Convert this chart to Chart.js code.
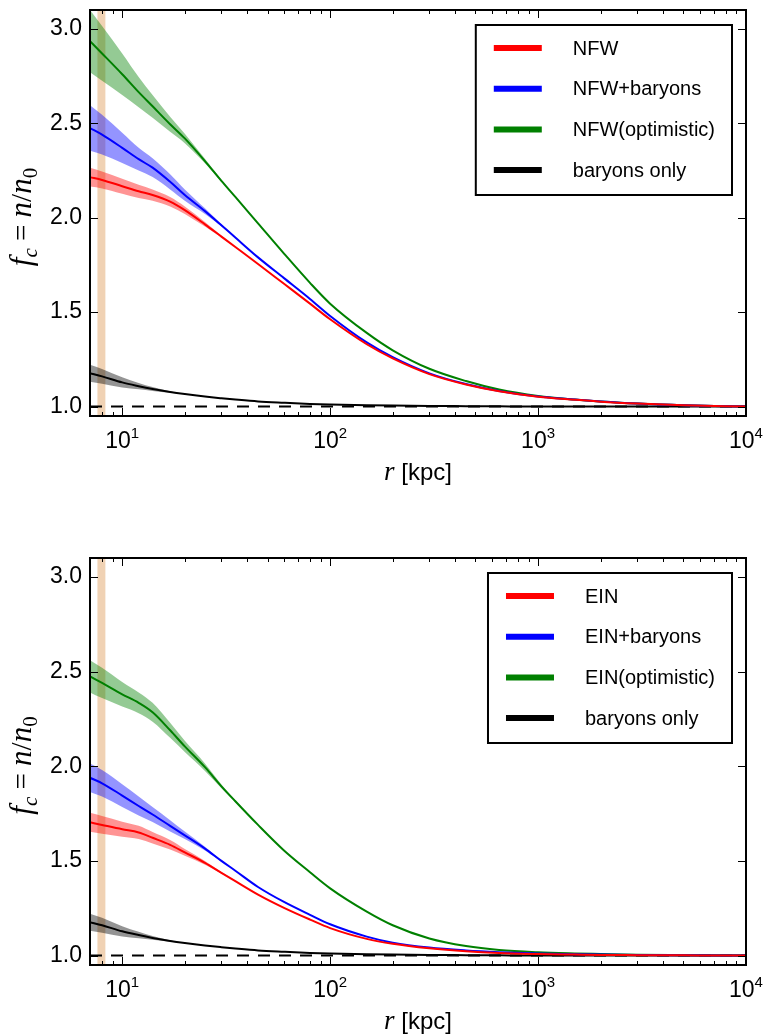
<!DOCTYPE html>
<html>
<head>
<meta charset="utf-8">
<script src="https://cdn.jsdelivr.net/npm/chart.js@4.4.0/dist/chart.umd.min.js"></script>
<style>
  body { margin: 0; background: #fff; }
  .panel { position: absolute; left: 0; width: 765px; height: 518px; }
</style>
</head>
<body>
<div class="panel" style="top:0"><canvas id="topChart" width="765" height="518"></canvas></div>
<div class="panel" style="top:518px"><canvas id="bottomChart" width="765" height="518"></canvas></div>
<script>
// radius grid in kpc
const radius = [7, 8, 10, 12, 14, 17, 20, 25, 30, 35, 45, 60, 80, 100, 150, 200, 300, 450, 650, 1000, 1500, 2000, 3000, 5000, 10000];

// top panel: NFW profiles
const nfw       = [2.215, 2.200, 2.167, 2.140, 2.120, 2.085, 2.040, 1.965, 1.900, 1.845, 1.755, 1.650, 1.545, 1.462, 1.330, 1.255, 1.172, 1.117, 1.081, 1.052, 1.036, 1.026, 1.016, 1.007, 1.000];
const nfwErr    = [0.050, 0.045, 0.040, 0.035, 0.030, 0.025, 0.020, 0.012, 0.005, 0, 0, 0, 0, 0, 0, 0, 0, 0, 0, 0, 0, 0, 0, 0, 0];
const nfwBar    = [2.475, 2.440, 2.370, 2.310, 2.265, 2.190, 2.120, 2.035, 1.960, 1.895, 1.790, 1.680, 1.570, 1.480, 1.340, 1.262, 1.176, 1.119, 1.082, 1.053, 1.037, 1.027, 1.016, 1.007, 1.000];
const nfwBarErr = [0.120, 0.105, 0.080, 0.060, 0.050, 0.040, 0.030, 0.015, 0.006, 0, 0, 0, 0, 0, 0, 0, 0, 0, 0, 0, 0, 0, 0, 0, 0];
const nfwOpt    = [2.935, 2.870, 2.760, 2.665, 2.590, 2.495, 2.420, 2.300, 2.195, 2.110, 1.970, 1.810, 1.655, 1.545, 1.390, 1.298, 1.200, 1.135, 1.090, 1.056, 1.037, 1.027, 1.016, 1.007, 1.000];
const nfwOptErr = [0.165, 0.145, 0.110, 0.080, 0.060, 0.040, 0.025, 0.012, 0.005, 0, 0, 0, 0, 0, 0, 0, 0, 0, 0, 0, 0, 0, 0, 0, 0];

// bottom panel: Einasto profiles
const ein       = [1.704, 1.690, 1.667, 1.650, 1.622, 1.585, 1.545, 1.490, 1.437, 1.393, 1.322, 1.252, 1.190, 1.145, 1.088, 1.062, 1.038, 1.022, 1.013, 1.008, 1.005, 1.003, 1.002, 1.001, 1.000];
const einErr    = [0.050, 0.047, 0.040, 0.035, 0.030, 0.025, 0.018, 0.010, 0.004, 0, 0, 0, 0, 0, 0, 0, 0, 0, 0, 0, 0, 0, 0, 0, 0];
const einBar    = [1.939, 1.910, 1.845, 1.790, 1.745, 1.685, 1.635, 1.565, 1.500, 1.448, 1.362, 1.283, 1.215, 1.165, 1.100, 1.068, 1.042, 1.027, 1.018, 1.011, 1.007, 1.005, 1.003, 1.001, 1.000];
const einBarErr = [0.075, 0.070, 0.060, 0.050, 0.040, 0.030, 0.020, 0.010, 0.004, 0, 0, 0, 0, 0, 0, 0, 0, 0, 0, 0, 0, 0, 0, 0, 0];
const einOpt    = [2.475, 2.440, 2.380, 2.335, 2.285, 2.190, 2.105, 1.995, 1.894, 1.815, 1.690, 1.555, 1.440, 1.355, 1.232, 1.160, 1.090, 1.050, 1.029, 1.017, 1.011, 1.008, 1.004, 1.002, 1.000];
const einOptErr = [0.085, 0.080, 0.065, 0.055, 0.050, 0.040, 0.030, 0.020, 0.010, 0.005, 0, 0, 0, 0, 0, 0, 0, 0, 0, 0, 0, 0, 0, 0, 0];

// baryons only (same in both panels)
const baryons    = [1.176, 1.160, 1.128, 1.108, 1.093, 1.077, 1.066, 1.053, 1.044, 1.037, 1.027, 1.020, 1.014, 1.011, 1.007, 1.005, 1.003, 1.002, 1.001, 1.000, 1.000, 1.000, 1.000, 1.000, 1.000];
const baryonsErr = [0.045, 0.039, 0.027, 0.017, 0.010, 0.004, 0.001, 0, 0, 0, 0, 0, 0, 0, 0, 0, 0, 0, 0, 0, 0, 0, 0, 0, 0];

const topNames = ["NFW", "NFW+baryons", "NFW(optimistic)", "baryons only"];
const bottomNames = ["EIN", "EIN+baryons", "EIN(optimistic)", "baryons only"];

const yTicks = [1.0, 1.5, 2.0, 2.5, 3.0];
const xMajor = [10, 100, 1000, 10000];
const xExp = ["1", "2", "3", "4"];
const solarBand = [7.6, 8.3];

const lineColors = ["#ff0000", "#0000ff", "#008000", "#000000"];
const bandColors = ["rgba(255,0,0,0.42)", "rgba(0,0,255,0.42)", "rgba(0,128,0,0.42)", "rgba(0,0,0,0.42)"];

const SANS = "'Liberation Sans', Arial, sans-serif";
const SERIF = "'Liberation Serif', 'Times New Roman', serif";

function buildDatasets(lines, errs, names) {
  const sets = [];
  lines.forEach((vals, k) => {
    const upper = [], lower = [];
    radius.forEach((r, i) => {
      if (errs[k][i] > 0 || (i > 0 && errs[k][i - 1] > 0)) {
        upper.push({ x: r, y: vals[i] + errs[k][i] });
        lower.push({ x: r, y: vals[i] - errs[k][i] });
      }
    });
    sets.push({ data: upper, borderColor: "rgba(0,0,0,0)", borderWidth: 0, pointRadius: 0, fill: false, order: 2, cubicInterpolationMode: "monotone" });
    sets.push({ data: lower, borderColor: "rgba(0,0,0,0)", borderWidth: 0, pointRadius: 0, fill: "-1", backgroundColor: bandColors[k], order: 2, cubicInterpolationMode: "monotone" });
  });
  lines.forEach((vals, k) => {
    sets.push({
      label: names[k],
      data: radius.map((r, i) => ({ x: r, y: vals[i] })),
      borderColor: lineColors[k],
      borderWidth: 2,
      pointRadius: 0,
      fill: false,
      order: 1,
      cubicInterpolationMode: "monotone"
    });
  });
  // n = n0 reference
  sets.push({
    data: [{ x: radius[0], y: 1 }, { x: radius[radius.length - 1], y: 1 }],
    borderColor: "#000",
    borderWidth: 2,
    borderDash: [12, 9],
    pointRadius: 0,
    fill: false,
    order: 1
  });
  return sets;
}

function drawPieces(ctx, pieces, cx, baseY) {
  let total = 0;
  pieces.forEach(p => { ctx.font = p.font; p.w = ctx.measureText(p.t).width; total += p.w; });
  let x = cx - total / 2;
  ctx.textAlign = "left";
  ctx.textBaseline = "alphabetic";
  pieces.forEach(p => {
    ctx.font = p.font;
    ctx.fillText(p.t, x, baseY + (p.dy || 0));
    x += p.w;
  });
}

const figurePlugin = {
  id: "figure",
  beforeDatasetsDraw(chart) {
    const { ctx, chartArea: a, scales: { x } } = chart;
    const x0 = x.getPixelForValue(solarBand[0]);
    const x1 = x.getPixelForValue(solarBand[1]);
    ctx.save();
    ctx.fillStyle = "rgba(218,142,67,0.4)";
    ctx.fillRect(x0, a.top, x1 - x0, a.bottom - a.top);
    ctx.restore();
  },
  afterDatasetsDraw(chart) {
    const { ctx, chartArea: a, scales: { x, y } } = chart;
    const names = chart.options.plugins.figure.names;
    ctx.save();
    ctx.fillStyle = "#000";
    ctx.strokeStyle = "#000";

    // inward ticks on all four sides
    ctx.lineWidth = 1;
    ctx.beginPath();
    for (let d = 1; d < 10000; d *= 10) {
      for (let m = 1; m <= 9; m++) {
        const v = m * d;
        if (v <= x.min || v >= x.max) continue;
        const px = Math.round(x.getPixelForValue(v)) + 0.5;
        const len = m === 1 ? 8 : 4;
        ctx.moveTo(px, a.bottom); ctx.lineTo(px, a.bottom - len);
        ctx.moveTo(px, a.top); ctx.lineTo(px, a.top + len);
      }
    }
    yTicks.forEach(v => {
      const py = Math.round(y.getPixelForValue(v)) + 0.5;
      ctx.moveTo(a.left, py); ctx.lineTo(a.left + 8, py);
      ctx.moveTo(a.right, py); ctx.lineTo(a.right - 8, py);
    });
    ctx.stroke();

    // frame
    ctx.lineWidth = 2;
    ctx.strokeRect(a.left, a.top, a.right - a.left, a.bottom - a.top);

    // x tick labels 10^n
    xMajor.forEach((v, i) => {
      const px = x.getPixelForValue(v);
      drawPieces(ctx, [
        { t: "10", font: "23px " + SANS },
        { t: xExp[i], font: "15px " + SANS, dy: -10 }
      ], px, a.bottom + 32);
    });

    // x title
    drawPieces(ctx, [
      { t: "r", font: "italic 27px " + SERIF },
      { t: " [kpc]", font: "24px " + SANS }
    ], (a.left + a.right) / 2, a.bottom + 64);

    // y title (rotated)
    ctx.save();
    ctx.translate(31, (a.top + a.bottom) / 2 + 4);
    ctx.rotate(-Math.PI / 2);
    drawPieces(ctx, [
      { t: "f", font: "italic 31px " + SERIF },
      { t: "c", font: "italic 21px " + SERIF, dy: 6 },
      { t: " = ", font: "29px " + SERIF },
      { t: "n", font: "italic 31px " + SERIF },
      { t: "/", font: "29px " + SERIF },
      { t: "n", font: "italic 31px " + SERIF },
      { t: "0", font: "21px " + SERIF, dy: 6 }
    ], 0, 0);
    ctx.restore();

    // legend box
    ctx.font = "20px " + SANS;
    const textW = Math.max(...names.map(n => ctx.measureText(n).width));
    const boxW = 18 + 48 + 31 + textW + 17;
    const right = a.right - 14, top = a.top + 15;
    const left = right - boxW;
    ctx.fillStyle = "#fff";
    ctx.fillRect(left, top, boxW, 170);
    ctx.lineWidth = 2;
    ctx.strokeRect(left, top, boxW, 170);
    names.forEach((n, k) => {
      const cy = top + 23 + k * 40.7;
      ctx.strokeStyle = lineColors[k];
      ctx.lineWidth = 6;
      ctx.beginPath();
      ctx.moveTo(left + 18, cy);
      ctx.lineTo(left + 66, cy);
      ctx.stroke();
      ctx.fillStyle = "#000";
      ctx.font = "20px " + SANS;
      ctx.textAlign = "left";
      ctx.textBaseline = "middle";
      ctx.fillText(n, left + 97, cy + 1);
    });
    ctx.restore();
  }
};

function makeChart(id, lines, errs, names, padTop, xHeight) {
  return new Chart(document.getElementById(id), {
    type: "line",
    data: { datasets: buildDatasets(lines, errs, names) },
    options: {
      responsive: false,
      animation: false,
      layout: { padding: { top: padTop, right: 19, left: 0, bottom: 0 } },
      scales: {
        x: {
          type: "logarithmic",
          min: 7,
          max: 10000,
          grid: { display: false, drawTicks: false },
          border: { display: false },
          ticks: { display: false },
          afterBuildTicks: axis => { axis.ticks = xMajor.map(v => ({ value: v })); },
          afterFit: axis => { axis.height = xHeight; axis.paddingLeft = 0; axis.paddingRight = 0; }
        },
        y: {
          type: "linear",
          min: 0.95,
          max: 3.1,
          grid: { display: false, drawTicks: false },
          border: { display: false },
          ticks: {
            color: "#000",
            padding: 8,
            font: { family: SANS, size: 23 },
            callback: v => v.toFixed(1)
          },
          afterBuildTicks: axis => { axis.ticks = yTicks.map(v => ({ value: v })); },
          afterFit: axis => { axis.width = 90; axis.paddingTop = 0; axis.paddingBottom = 0; }
        }
      },
      plugins: {
        legend: { display: false },
        tooltip: { enabled: false },
        figure: { names: names }
      }
    },
    plugins: [figurePlugin]
  });
}

makeChart("topChart",
  [nfw, nfwBar, nfwOpt, baryons],
  [nfwErr, nfwBarErr, nfwOptErr, baryonsErr],
  topNames, 10, 102);

makeChart("bottomChart",
  [ein, einBar, einOpt, baryons],
  [einErr, einBarErr, einOptErr, baryonsErr],
  bottomNames, 40, 71);
</script>
</body>
</html>
